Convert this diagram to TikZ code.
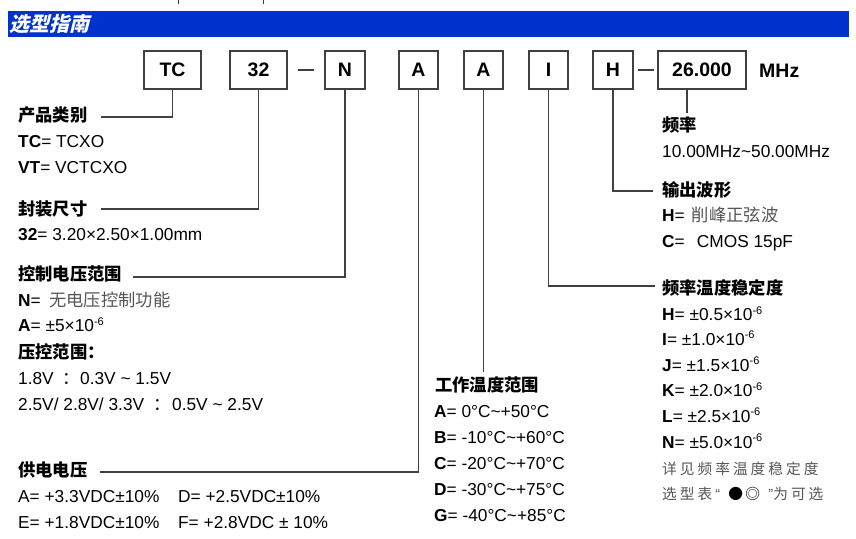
\documentclass[tikz,border=0pt]{standalone}
\usepackage{fontspec}
\setmainfont{Liberation Sans}
\newfontfamily\cjk{Noto Sans CJK SC}
\newfontfamily\cjkslant{Noto Sans CJK SC}[FakeSlant=0.25]
\definecolor{barblue}{RGB}{0,51,204}
\definecolor{cgray}{RGB}{85,85,85}
\definecolor{lgray}{RGB}{64,64,64}
\newcommand\supm[1]{\raisebox{6.5pt}{\fontsize{11}{11}\selectfont #1}}
\newcommand\gch[1]{\makebox[17.7pt][l]{#1}}
\begin{document}
\begin{tikzpicture}[x=1pt,y=-1pt,
  partbox/.style={draw=lgray,line width=1.3pt,minimum height=38pt,inner sep=0pt,
    font=\fontsize{19.5}{20}\selectfont\bfseries},
  lnk/.style={draw=lgray,line width=1.1pt},
  txt/.style={anchor=base west,inner sep=0pt,font=\fontsize{17.3}{20}\selectfont},
  gtxt/.style={anchor=base west,inner sep=0pt,font=\fontsize{14.7}{16}\selectfont\cjk,text=cgray}]
\useasboundingbox (0,0) rectangle (856,538);
% stray marks at the top edge
\draw[lgray,line width=0.6pt] (178,0) -- (178,4);
\draw[lgray,line width=0.6pt] (263,0) -- (263,4);
% title bar
\fill[barblue] (8,11) rectangle (849,37);
\node[anchor=base west,inner sep=0pt,text=white,font=\fontsize{20}{22}\selectfont\cjkslant\bfseries] (title) at (9,31) {选型指南};
% part boxes
\node[partbox,minimum width=57pt] (bTC) at (172.5,70) {TC};
\node[partbox,minimum width=57pt] (b32) at (258.5,70) {32};
\node[partbox,minimum width=40pt] (bN)  at (345,70) {N};
\node[partbox,minimum width=39pt] (bA1) at (418.5,70) {A};
\node[partbox,minimum width=39pt] (bA2) at (483.5,70) {A};
\node[partbox,minimum width=39pt] (bI)  at (548.5,70) {I};
\node[partbox,minimum width=40pt] (bH)  at (613,70) {H};
\node[partbox,minimum width=88pt] (b26) at (702,70) {26.000};
\node[anchor=base west,inner sep=0pt,font=\fontsize{19.5}{20}\selectfont\bfseries] (mhz) at (759,77.5) {MHz};
% dashes
\draw[lnk] ([xshift=10pt]b32.east) -- ([xshift=-10pt]bN.west);
\draw[lnk] ([xshift=4pt]bH.east) -- ([xshift=-3pt]b26.west);
% connector end points
\coordinate (e1) at (101,117);
\coordinate (e2) at (101,209);
\coordinate (e3) at (133,277);
\coordinate (e4) at (100,472);
\coordinate (e5) at (483,372);
\coordinate (e6) at (655,286);
\coordinate (e7) at (653,191);
\coordinate (e8) at (687,113);
\draw[lnk] (bTC.south) |- (e1);
\draw[lnk] (b32.south) |- (e2);
\draw[lnk] (bN.south) |- (e3);
\draw[lnk] (bA1.south) |- (e4);
\draw[lnk] (bA2.south) -- (bA2.south |- e5);
\draw[lnk] (bI.south) |- (e6);
\draw[lnk] (bH.south) |- (e7);
\draw[lnk] (e8 |- b26.south) -- (e8);
% left column
\node[txt] (t1) at (18,121) {\cjk\bfseries 产品类别};
\node[txt] (t2) at (18,147) {\textbf{TC}= TCXO};
\node[txt] (t3) at (18,173) {\textbf{VT}= VCTCXO};
\node[txt] (t4) at (18,215) {\cjk\bfseries 封装尺寸};
\node[txt] (t5) at (18,240) {\textbf{32}= 3.20×2.50×1.00mm};
\node[txt] (t6) at (18,280) {\cjk\bfseries 控制电压范围};
\node[txt] (t7) at (18,306.5) {\makebox[31pt][l]{\textbf{N}=}{\cjk\color{cgray}无电压控制功能}};
\node[txt] (t8) at (18,331.5) {\textbf{A}= ±5×10\supm{-6}};
\node[txt] (t9) at (18,358) {\cjk\bfseries 压控范围：};
\node[txt] (t10) at (18,384) {\makebox[44pt][l]{1.8V}\makebox[18pt][l]{\cjk ：}0.3V \textasciitilde{} 1.5V};
\node[txt] (t11) at (18,410) {\makebox[135pt][l]{2.5V/ 2.8V/ 3.3V}\makebox[19pt][l]{\cjk ：}0.5V \textasciitilde{} 2.5V};
\node[txt] (t12) at (18,476.5) {\cjk\bfseries 供电电压};
\node[txt] (t13) at (18,502) {\makebox[160pt][l]{A= +3.3VDC±10\%}D= +2.5VDC±10\%};
\node[txt] (t14) at (18,528) {\makebox[160pt][l]{E= +1.8VDC±10\%}F= +2.8VDC ± 10\%};
% middle column
\node[txt] (m1) at (435,391.5) {\cjk\bfseries 工作温度范围};
\node[txt] (m2) at (434,417) {\textbf{A}= 0°C\textasciitilde+50°C};
\node[txt] (m3) at (434,443) {\textbf{B}= -10°C\textasciitilde+60°C};
\node[txt] (m4) at (434,469) {\textbf{C}= -20°C\textasciitilde+70°C};
\node[txt] (m5) at (434,495) {\textbf{D}= -30°C\textasciitilde+75°C};
\node[txt] (m6) at (434,521) {\textbf{G}= -40°C\textasciitilde+85°C};
% right column
\node[txt] (r1) at (662,131.5) {\cjk\bfseries 频率};
\node[txt] (r2) at (662,157) {10.00MHz\textasciitilde50.00MHz};
\node[txt] (r3) at (662,196.5) {\cjk\bfseries 输出波形};
\node[txt] (r4) at (662,221.5) {\makebox[29.7pt][l]{\textbf{H}=}{\cjk\color{cgray}削峰正弦波}};
\node[txt] (r5) at (662,247) {\makebox[34.7pt][l]{\textbf{C}=}CMOS 15pF};
\node[txt] (r6) at (662,294) {\cjk\bfseries 频率温度稳定度};
\node[txt] (r7) at (662,320.5) {\textbf{H}= ±0.5×10\supm{-6}};
\node[txt] (r8) at (662,345) {\textbf{I}= ±1.0×10\supm{-6}};
\node[txt] (r9) at (662,371) {\textbf{J}= ±1.5×10\supm{-6}};
\node[txt] (r10) at (662,396.5) {\textbf{K}= ±2.0×10\supm{-6}};
\node[txt] (r11) at (662,422) {\textbf{L}= ±2.5×10\supm{-6}};
\node[txt] (r12) at (662,448) {\textbf{N}= ±5.0×10\supm{-6}};
\node[gtxt] (r13) at (662,474) {\gch{详}\gch{见}\gch{频}\gch{率}\gch{温}\gch{度}\gch{稳}\gch{定}\gch{度}};
\node[gtxt] (r14) at (662,499) {\gch{选}\gch{型}\gch{表}\makebox[13pt][l]{\rmfamily “}\makebox[17pt][l]{\color{black}●}\makebox[23pt][l]{\color{black}◎}\makebox[5pt][l]{\rmfamily ”}\gch{为}\gch{可}\gch{选}};
\end{tikzpicture}
\end{document}
